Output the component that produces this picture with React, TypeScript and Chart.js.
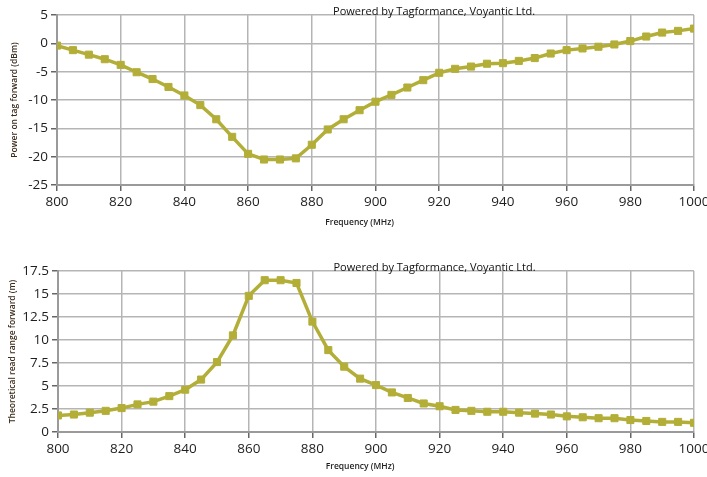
import React, { useEffect, useRef } from "react";
import { Chart, registerables } from "chart.js";

Chart.register(...registerables);

const frequencies = [
  800, 805, 810, 815, 820, 825, 830, 835, 840, 845, 850, 855, 860, 865, 870, 875, 880, 885, 890, 895,
  900, 905, 910, 915, 920, 925, 930, 935, 940, 945, 950, 955, 960, 965, 970, 975, 980, 985, 990, 995, 1000,
];

const powerForward = [
  -0.4, -1.2, -2.0, -2.8, -3.8, -5.1, -6.3, -7.7, -9.2, -10.9, -13.4, -16.5, -19.5, -20.5, -20.5, -20.3,
  -17.9, -15.2, -13.4, -11.8, -10.3, -9.1, -7.8, -6.5, -5.2, -4.5, -4.1, -3.6, -3.5, -3.1, -2.6, -1.8,
  -1.2, -0.9, -0.6, -0.2, 0.4, 1.2, 1.9, 2.2, 2.6,
];

const readRange = [
  1.8, 1.9, 2.1, 2.3, 2.6, 3.0, 3.3, 3.9, 4.6, 5.7, 7.6, 10.5, 14.8, 16.5, 16.5, 16.2, 12.0, 8.9, 7.1,
  5.8, 5.1, 4.3, 3.7, 3.1, 2.8, 2.4, 2.3, 2.2, 2.2, 2.1, 2.0, 1.9, 1.7, 1.6, 1.5, 1.5, 1.3, 1.2, 1.1,
  1.1, 1.0,
];

const creditText = "Powered by Tagformance, Voyantic Ltd.";
const xAxisTitle = "Frequency (MHz)";
const topYTitle = "Power on tag forward (dBm)";
const bottomYTitle = "Theoretical read range forward (m)";

const LINE_COLOR = "#b3ae37";
const GRID_COLOR = "#b5b5b5";
const TEXT_COLOR = "#1e1e1e";
const FONT = "'Open Sans', 'Noto Sans', sans-serif";

type Cfg = {
  values: number[];
  yTitle: string;
  yMin: number;
  yMax: number;
  yStep: number;
  yWidth: number;
  yTitlePad: number;
  padTop: number;
  xHeight: number;
  xTitleOffset: number;
};

function overlayPlugin(xTitleOffset: number) {
  return {
    id: "overlayText",
    afterDraw(chart: any) {
      const { ctx, chartArea } = chart;
      ctx.save();
      ctx.fillStyle = "#111";
      ctx.font = `11px ${FONT}`;
      ctx.textAlign = "center";
      ctx.textBaseline = "alphabetic";
      ctx.fillText(creditText, chartArea.left + (chartArea.right - chartArea.left) * 0.592, chartArea.top);
      ctx.fillStyle = TEXT_COLOR;
      ctx.font = `600 8.5px ${FONT}`;
      ctx.textBaseline = "middle";
      ctx.fillText(
        xAxisTitle,
        chartArea.left + (chartArea.right - chartArea.left) * 0.475,
        chartArea.bottom + xTitleOffset
      );
      ctx.restore();
    },
  };
}

function LineChart({ cfg, width, height }: { cfg: Cfg; width: number; height: number }) {
  const ref = useRef<HTMLCanvasElement | null>(null);
  useEffect(() => {
    if (!ref.current) return;
    const chart = new Chart(ref.current, {
      type: "line",
      data: {
        datasets: [
          {
            data: frequencies.map((f, i) => ({ x: f, y: cfg.values[i] })),
            borderColor: LINE_COLOR,
            backgroundColor: LINE_COLOR,
            borderWidth: 3.5,
            pointStyle: "rect",
            pointRadius: 5,
            pointBorderWidth: 1,
            pointBackgroundColor: LINE_COLOR,
            pointBorderColor: LINE_COLOR,
            tension: 0,
          },
        ],
      },
      options: {
        responsive: false,
        animation: false,
        layout: { padding: { top: cfg.padTop, right: 13, left: 0, bottom: 0 } },
        plugins: { legend: { display: false }, tooltip: { enabled: false } },
        scales: {
          x: {
            type: "linear",
            min: 800,
            max: 1000,
            afterFit(scale: any) {
              scale.height = cfg.xHeight;
              scale.paddingLeft = 0;
              scale.paddingRight = 0;
            },
            ticks: {
              stepSize: 20,
              color: TEXT_COLOR,
              font: { family: FONT, size: 13.5 },
              padding: 3,
              maxRotation: 0,
              autoSkip: false,
              callback: (v: any) => String(v),
            },
            grid: { color: GRID_COLOR, lineWidth: 1.5, tickLength: 6, tickColor: "#666" },
            border: { color: "#9a9a9a", width: 2 },
          },
          y: {
            min: cfg.yMin,
            max: cfg.yMax,
            afterFit(scale: any) {
              scale.width = cfg.yWidth;
            },
            ticks: {
              stepSize: cfg.yStep,
              color: TEXT_COLOR,
              font: { family: FONT, size: 13.5 },
              padding: 3,
              callback: (v: any) => String(v),
            },
            grid: { color: GRID_COLOR, lineWidth: 1.5, tickLength: 6, tickColor: "#666" },
            border: { color: "#9a9a9a", width: 2 },
            title: {
              display: true,
              text: cfg.yTitle,
              color: "#3a2a1a",
              font: { family: FONT, size: 8.5, weight: 600 },
              padding: { top: cfg.yTitlePad, bottom: 0 },
            },
          },
        },
      },
      plugins: [overlayPlugin(cfg.xTitleOffset)],
    } as any);
    return () => chart.destroy();
  }, [cfg]);
  return <canvas ref={ref} width={width} height={height} style={{ display: "block" }} />;
}

const topCfg: Cfg = {
  values: powerForward,
  yTitle: topYTitle,
  yMin: -25,
  yMax: 5,
  yStep: 5,
  yWidth: 57,
  yTitlePad: 9,
  padTop: 15,
  xHeight: 50,
  xTitleOffset: 38,
};

const bottomCfg: Cfg = {
  values: readRange,
  yTitle: bottomYTitle,
  yMin: 0,
  yMax: 17.5,
  yStep: 2.5,
  yWidth: 58,
  yTitlePad: 7,
  padTop: 21,
  xHeight: 45,
  xTitleOffset: 35,
};

export default function App() {
  return (
    <div style={{ position: "absolute", left: 0, top: 0, width: 707, height: 477, background: "#fff" }}>
      <div style={{ position: "absolute", left: 0, top: 0 }}>
        <LineChart cfg={topCfg} width={707} height={235} />
      </div>
      <div style={{ position: "absolute", left: 0, top: 250 }}>
        <LineChart cfg={bottomCfg} width={707} height={227} />
      </div>
    </div>
  );
}
